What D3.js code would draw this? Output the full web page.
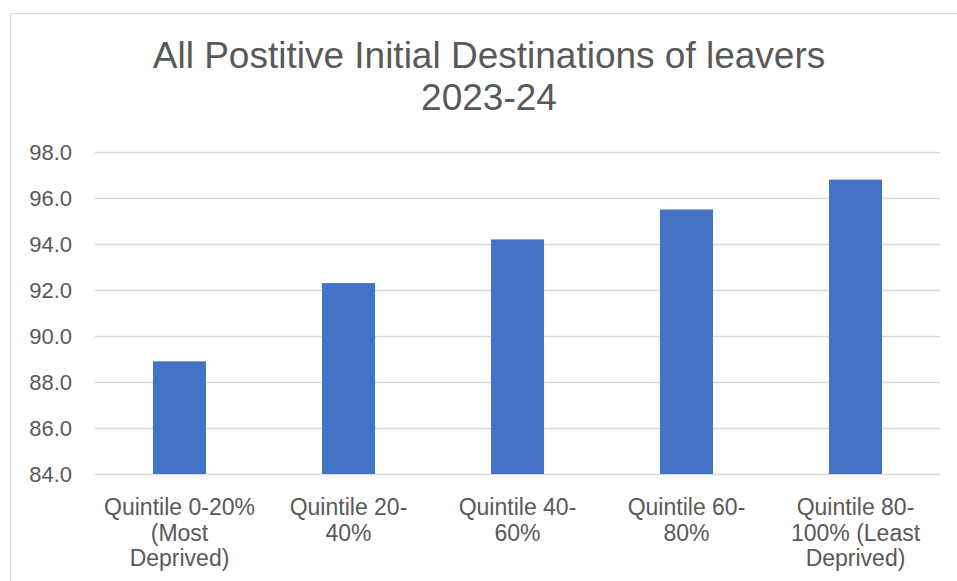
<!DOCTYPE html>
<html>
<head>
<meta charset="utf-8">
<script src="https://cdn.jsdelivr.net/npm/d3@7"></script>
<style>
  body { margin: 0; background: #fff; }
  svg { display: block; font-family: "Liberation Sans", Arial, sans-serif; }
</style>
</head>
<body>
<script>
const categories = [
  ["Quintile 0-20%", "(Most", "Deprived)"],
  ["Quintile 20-", "40%"],
  ["Quintile 40-", "60%"],
  ["Quintile 60-", "80%"],
  ["Quintile 80-", "100% (Least", "Deprived)"]
];
const values = [88.9, 92.3, 94.2, 95.5, 96.8];
const yTicks = [84, 86, 88, 90, 92, 94, 96, 98];
const titleLines = ["All Postitive Initial Destinations of leavers", "2023-24"];

const width = 957, height = 581;
const margin = {top: 152, right: 17, bottom: 107, left: 95};

const svg = d3.select("body").append("svg")
    .attr("width", width)
    .attr("height", height);

// chart area border
svg.append("rect")
    .attr("x", 10.5).attr("y", 13.5)
    .attr("width", width).attr("height", height)
    .attr("fill", "#fff")
    .attr("stroke", "#d9d9d9");

const x = d3.scaleBand()
    .domain(categories.map((d, i) => i))
    .range([margin.left, width - margin.right])
    .paddingInner(0.686)
    .paddingOuter(0.343);

const y = d3.scaleLinear()
    .domain([84, 98])
    .range([height - margin.bottom, margin.top]);

// gridlines
svg.append("g")
  .selectAll("line")
  .data(yTicks)
  .join("line")
    .attr("x1", margin.left).attr("x2", width - margin.right)
    .attr("y1", d => Math.round(y(d)) + 0.5).attr("y2", d => Math.round(y(d)) + 0.5)
    .attr("stroke", "#d9d9d9")
    .attr("stroke-width", 1.3);

// y axis labels
const yAxis = d3.axisLeft(y).tickValues(yTicks).tickFormat(d3.format(".1f")).tickSize(0).tickPadding(23);
svg.append("g")
    .attr("transform", `translate(${margin.left},0)`)
    .call(yAxis)
    .call(g => g.select(".domain").remove())
    .call(g => g.selectAll("text")
        .attr("fill", "#595959")
        .style("font-size", "22px")
        .style("font-family", "Liberation Sans, Arial, sans-serif"));

// bars
svg.append("g")
  .selectAll("rect")
  .data(values)
  .join("rect")
    .attr("x", (d, i) => x(i))
    .attr("y", d => y(d))
    .attr("width", x.bandwidth())
    .attr("height", d => y(84) - y(d))
    .attr("fill", "#4472c4");

// category labels
const xl = svg.append("g")
  .selectAll("text")
  .data(categories)
  .join("text")
    .attr("x", (d, i) => x(i) + x.bandwidth() / 2)
    .attr("y", 515)
    .attr("text-anchor", "middle")
    .attr("fill", "#595959")
    .style("font-size", "23px");

xl.selectAll("tspan")
  .data(d => d)
  .join("tspan")
    .attr("x", function() { return this.parentNode.getAttribute("x"); })
    .attr("dy", (d, i) => i === 0 ? 0 : 25.5)
    .text(d => d);

// title
svg.append("text")
    .attr("x", 489)
    .attr("text-anchor", "middle")
    .attr("fill", "#595959")
    .style("font-size", "37px")
  .selectAll("tspan")
  .data(titleLines)
  .join("tspan")
    .attr("x", 489)
    .attr("y", (d, i) => 68 + i * 42)
    .text(d => d);
</script>
</body>
</html>
